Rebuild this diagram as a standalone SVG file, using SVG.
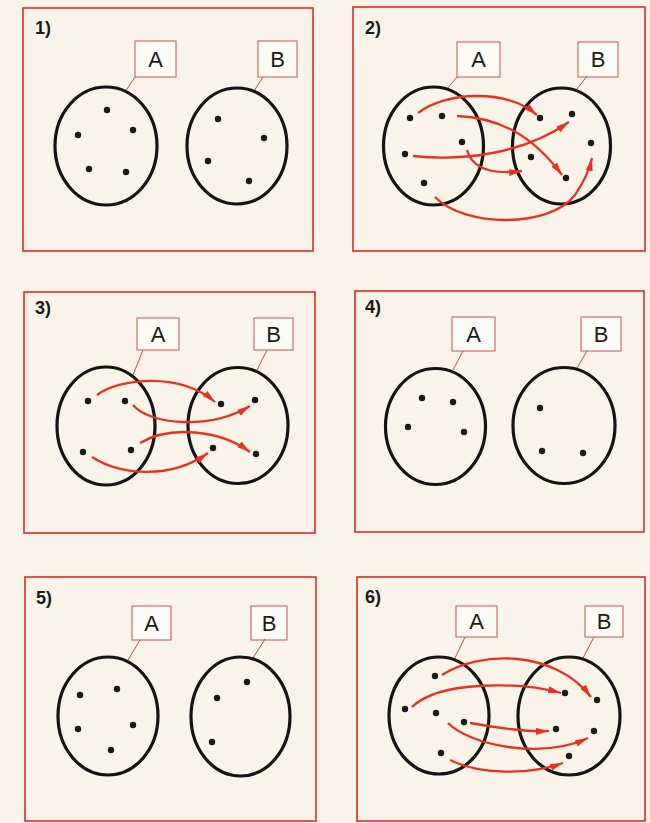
<svg xmlns="http://www.w3.org/2000/svg" width="650" height="823" viewBox="0 0 650 823">
<style>
.bg{fill:#f8f4ea}
.frame{fill:none;stroke:#e32a22;stroke-width:1.6}
.num{font-family:"Liberation Sans",Arial,sans-serif;font-size:18px;font-weight:bold;fill:#1a1a1a}
.lbox{fill:#fdfbf6;stroke:#c8504a;stroke-width:1}
.ltxt{font-family:"Liberation Sans",Arial,sans-serif;font-size:22px;fill:#1a1a1a;text-anchor:middle}
.lead{stroke:#d9443c;stroke-width:1;fill:none}
.set{fill:none;stroke:#141414;stroke-width:3.2}
.dot{fill:#1a1a1a}
.arr{fill:none;stroke:#e8321f;stroke-width:2.3;marker-end:url(#ah)}
</style>
<defs>
<marker id="ah" markerUnits="userSpaceOnUse" markerWidth="14" markerHeight="8" refX="13" refY="4" orient="auto">
<path d="M0,0.5 L13,4 L0,7.5 z" fill="#e8321f"/>
</marker>
</defs>
<rect class="bg" x="0" y="0" width="650" height="823"/>

<g id="panel1">
<rect class="frame" x="23" y="8" width="290" height="243"/>
<text class="num" x="35" y="34">1)</text>
<g id="p1-A"><rect class="lbox" x="135" y="41" width="41" height="36"/><text class="ltxt" x="155.5" y="67">A</text><line class="lead" x1="135" y1="77" x2="125" y2="92"/></g>
<g id="p1-B"><rect class="lbox" x="258" y="41" width="39" height="36"/><text class="ltxt" x="277.5" y="67">B</text><line class="lead" x1="263" y1="77" x2="254" y2="91"/></g>
<ellipse class="set" cx="106" cy="146" rx="51" ry="59"/>
<ellipse class="set" cx="237" cy="146" rx="50" ry="58"/>
<circle class="dot" cx="107" cy="110" r="3.2"/><circle class="dot" cx="78" cy="135" r="3.2"/><circle class="dot" cx="133" cy="130" r="3.2"/><circle class="dot" cx="89" cy="169" r="3.2"/><circle class="dot" cx="126" cy="172" r="3.2"/>
<circle class="dot" cx="218" cy="119" r="3.2"/><circle class="dot" cx="264" cy="138" r="3.2"/><circle class="dot" cx="208" cy="161" r="3.2"/><circle class="dot" cx="249" cy="181" r="3.2"/>
</g>

<g id="panel2">
<rect class="frame" x="353" y="7" width="292" height="244"/>
<text class="num" x="365" y="34">2)</text>
<g id="p2-A"><rect class="lbox" x="457" y="42" width="43" height="35"/><text class="ltxt" x="478.5" y="67">A</text><line class="lead" x1="457" y1="77" x2="447" y2="89"/></g>
<g id="p2-B"><rect class="lbox" x="578" y="42" width="40" height="35"/><text class="ltxt" x="598" y="67">B</text><line class="lead" x1="587" y1="76" x2="577" y2="89"/></g>
<ellipse class="set" cx="433.5" cy="146" rx="50" ry="59"/>
<ellipse class="set" cx="561.5" cy="146" rx="49" ry="58"/>
<circle class="dot" cx="410" cy="118" r="3.2"/><circle class="dot" cx="442" cy="116" r="3.2"/><circle class="dot" cx="462" cy="142" r="3.2"/><circle class="dot" cx="405" cy="154" r="3.2"/><circle class="dot" cx="424" cy="183" r="3.2"/>
<circle class="dot" cx="540" cy="118" r="3.2"/><circle class="dot" cx="572" cy="114" r="3.2"/><circle class="dot" cx="591" cy="143" r="3.2"/><circle class="dot" cx="531" cy="157" r="3.2"/><circle class="dot" cx="566" cy="178" r="3.2"/>
</g>

<g id="panel3">
<rect class="frame" x="24" y="292" width="291" height="241"/>
<text class="num" x="35" y="314">3)</text>
<g id="p3-A"><rect class="lbox" x="137" y="318" width="42" height="32"/><text class="ltxt" x="158" y="342">A</text><line class="lead" x1="143" y1="350" x2="133" y2="375"/></g>
<g id="p3-B"><rect class="lbox" x="254" y="318" width="39" height="32"/><text class="ltxt" x="273.5" y="342">B</text><line class="lead" x1="267" y1="350" x2="257" y2="370"/></g>
<ellipse class="set" cx="106" cy="426" rx="49" ry="59"/>
<ellipse class="set" cx="238" cy="425.5" rx="50" ry="58"/>
<circle class="dot" cx="88" cy="401" r="3.2"/><circle class="dot" cx="125" cy="401" r="3.2"/><circle class="dot" cx="83" cy="452" r="3.2"/><circle class="dot" cx="131" cy="450" r="3.2"/>
<circle class="dot" cx="221" cy="404" r="3.2"/><circle class="dot" cx="255" cy="400" r="3.2"/><circle class="dot" cx="213" cy="448" r="3.2"/><circle class="dot" cx="256" cy="454" r="3.2"/>
</g>

<g id="panel4">
<rect class="frame" x="355" y="291" width="289" height="241"/>
<text class="num" x="365" y="313">4)</text>
<g id="p4-A"><rect class="lbox" x="452" y="317" width="43" height="34"/><text class="ltxt" x="473.5" y="342">A</text><line class="lead" x1="463" y1="351" x2="453" y2="370"/></g>
<g id="p4-B"><rect class="lbox" x="581" y="317" width="40" height="34"/><text class="ltxt" x="601" y="342">B</text><line class="lead" x1="587" y1="351" x2="577" y2="368"/></g>
<ellipse class="set" cx="435.5" cy="426.5" rx="50" ry="58"/>
<ellipse class="set" cx="564" cy="425.5" rx="51" ry="58"/>
<circle class="dot" cx="422" cy="398" r="3.2"/><circle class="dot" cx="453" cy="402" r="3.2"/><circle class="dot" cx="408" cy="427" r="3.2"/><circle class="dot" cx="464" cy="432" r="3.2"/>
<circle class="dot" cx="540" cy="408" r="3.2"/><circle class="dot" cx="542" cy="451" r="3.2"/><circle class="dot" cx="583" cy="453" r="3.2"/>
</g>

<g id="panel5">
<rect class="frame" x="25" y="577" width="291" height="244"/>
<text class="num" x="36" y="604">5)</text>
<g id="p5-A"><rect class="lbox" x="132" y="606" width="39" height="34"/><text class="ltxt" x="151.5" y="631">A</text><line class="lead" x1="140" y1="640" x2="128" y2="660"/></g>
<g id="p5-B"><rect class="lbox" x="251" y="606" width="36" height="34"/><text class="ltxt" x="269" y="631">B</text><line class="lead" x1="265" y1="639" x2="253" y2="658"/></g>
<ellipse class="set" cx="108" cy="716" rx="50" ry="59"/>
<ellipse class="set" cx="240.5" cy="716.5" rx="49.5" ry="59.5"/>
<circle class="dot" cx="80" cy="695" r="3.2"/><circle class="dot" cx="117" cy="689" r="3.2"/><circle class="dot" cx="78" cy="729" r="3.2"/><circle class="dot" cx="133" cy="725" r="3.2"/><circle class="dot" cx="111" cy="750" r="3.2"/>
<circle class="dot" cx="247" cy="682" r="3.2"/><circle class="dot" cx="217" cy="698" r="3.2"/><circle class="dot" cx="212" cy="742" r="3.2"/>
</g>

<g id="panel6">
<rect class="frame" x="357" y="577" width="288" height="244"/>
<text class="num" x="365" y="603">6)</text>
<g id="p6-A"><rect class="lbox" x="456" y="606" width="41" height="31"/><text class="ltxt" x="476.5" y="629">A</text><line class="lead" x1="465" y1="637" x2="455" y2="658"/></g>
<g id="p6-B"><rect class="lbox" x="585" y="606" width="38" height="31"/><text class="ltxt" x="604" y="629">B</text><line class="lead" x1="594" y1="637" x2="583" y2="658"/></g>
<ellipse class="set" cx="439" cy="715.5" rx="50" ry="58.5"/>
<ellipse class="set" cx="569" cy="716" rx="51" ry="59"/>
<circle class="dot" cx="435" cy="676" r="3.2"/><circle class="dot" cx="405" cy="709" r="3.2"/><circle class="dot" cx="436" cy="713" r="3.2"/><circle class="dot" cx="464" cy="722" r="3.2"/><circle class="dot" cx="441" cy="753" r="3.2"/>
<circle class="dot" cx="565" cy="693" r="3.2"/><circle class="dot" cx="597" cy="700" r="3.2"/><circle class="dot" cx="556" cy="729" r="3.2"/><circle class="dot" cx="594" cy="731" r="3.2"/><circle class="dot" cx="569" cy="756" r="3.2"/>
</g>

<g id="connectors">
<path class="arr" d="M418,113 C445,92 505,88 537,115"/>
<path class="arr" d="M457,116 C500,118 532,135 562,175"/>
<path class="arr" d="M413,156 C460,161 522,155 569,122"/>
<path class="arr" d="M467,150 C472,168 490,175 522,171"/>
<path class="arr" d="M435,197 C465,228 550,228 575,195 Q588,176 592,158"/>

<path class="arr" d="M97,395 C120,378 180,372 215,402"/>
<path class="arr" d="M133,405 C150,425 210,430 250,406"/>
<path class="arr" d="M140,443 C170,425 220,430 250,452"/>
<path class="arr" d="M92,457 C120,475 170,480 208,453"/>

<path class="arr" d="M442,675 C480,650 555,650 591,697"/>
<path class="arr" d="M412,707 C440,680 520,682 561,693"/>
<path class="arr" d="M470,723 C500,728 525,732 549,731"/>
<path class="arr" d="M448,723 C470,745 540,760 588,738"/>
<path class="arr" d="M450,760 C480,775 530,775 563,763"/>
</g>
</svg>
